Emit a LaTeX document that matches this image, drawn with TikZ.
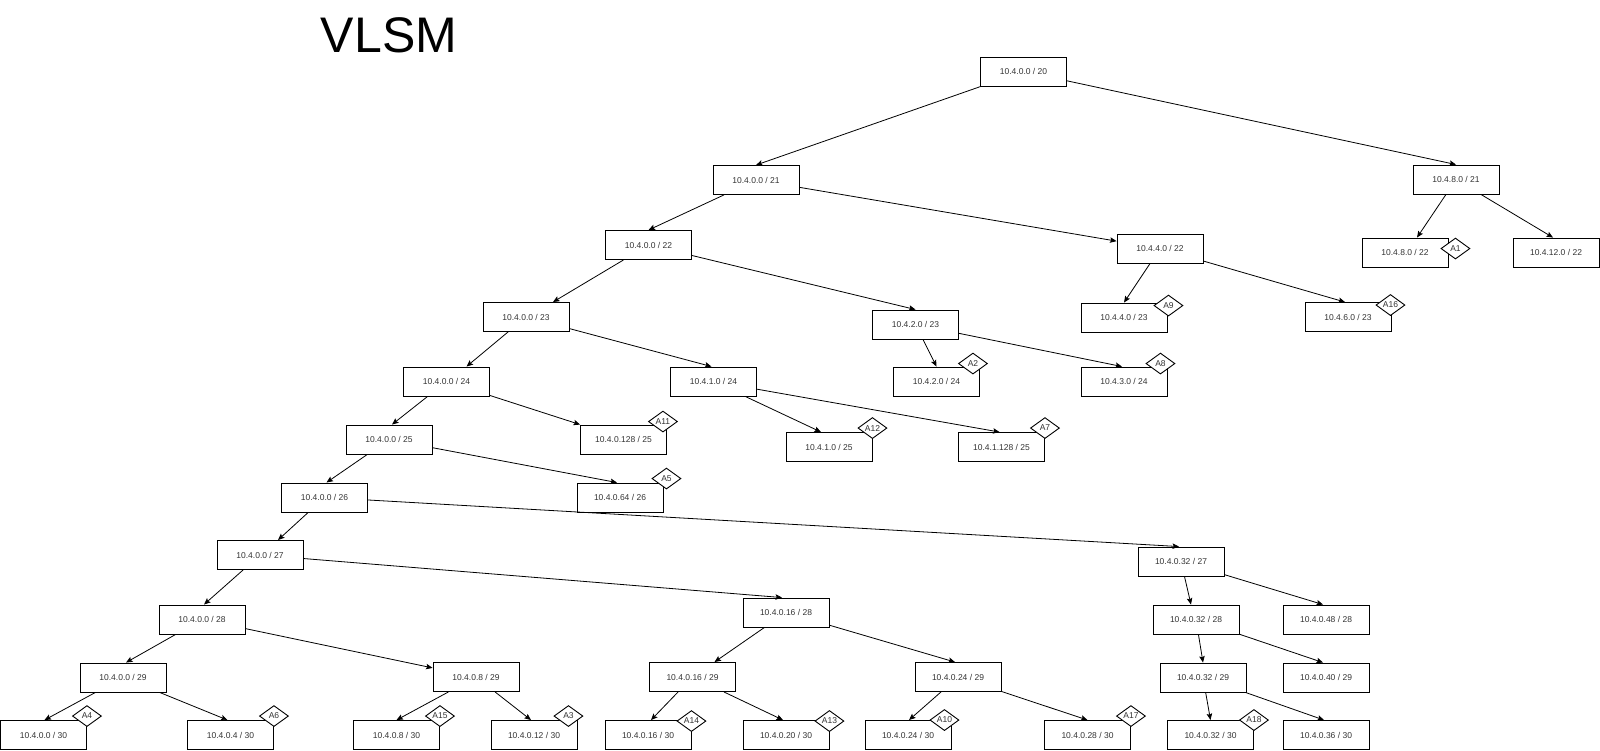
\documentclass[tikz,border=0pt]{standalone}
\usepackage{fontspec}
\setmainfont{Liberation Sans}
\usetikzlibrary{arrows.meta,shapes.geometric}

\begin{document}
\begin{tikzpicture}[x=1pt, y=-1pt, >={Stealth[length=6.5pt, width=5.5pt, inset=1.2pt]},
      net/.style={draw, line width=0.9pt, minimum width=86pt, minimum height=29pt, inner sep=0pt,
        text=black!80, font=\fontsize{8.5}{10}\selectfont},
      tag/.style={diamond, draw, line width=0.9pt, fill=white, minimum width=29pt, minimum height=21pt,
        inner sep=0pt, text=black!80, font=\fontsize{8.5}{10}\selectfont},
      every path/.style={line width=0.8pt}]
    \useasboundingbox (0,0) rectangle (1600,751);
    \node[font=\fontsize{50}{60}\selectfont] (title) at (389,35) {VLSM};
    % tree of subnets
    \node[net] (x0_0_20) at (1023.5,71.5) {10.4.0.0 / 20};
    \node[net] (x0_0_21) at (756,180) {10.4.0.0 / 21};
    \node[net] (x8_0_21) at (1456,179.5) {10.4.8.0 / 21};
    \node[net] (x0_0_22) at (648.5,245) {10.4.0.0 / 22};
    \node[net] (x4_0_22) at (1160,248.5) {10.4.4.0 / 22};
    \node[net] (x8_0_22) at (1405,252.5) {10.4.8.0 / 22};
    \node[net] (x12_0_22) at (1556,252.5) {10.4.12.0 / 22};
    \node[net] (x0_0_23) at (526,317) {10.4.0.0 / 23};
    \node[net] (x2_0_23) at (915.5,324.5) {10.4.2.0 / 23};
    \node[net] (x4_0_23) at (1124,317.5) {10.4.4.0 / 23};
    \node[net] (x6_0_23) at (1348,317) {10.4.6.0 / 23};
    \node[net] (x0_0_24) at (446.5,381.5) {10.4.0.0 / 24};
    \node[net] (x1_0_24) at (713.5,381.5) {10.4.1.0 / 24};
    \node[net] (x2_0_24) at (936.5,381.5) {10.4.2.0 / 24};
    \node[net] (x3_0_24) at (1124,381.5) {10.4.3.0 / 24};
    \node[net] (x0_0_25) at (389,439.5) {10.4.0.0 / 25};
    \node[net] (x0_128_25) at (623.5,439.5) {10.4.0.128 / 25};
    \node[net] (x1_0_25) at (829,447) {10.4.1.0 / 25};
    \node[net] (x1_128_25) at (1001.5,447) {10.4.1.128 / 25};
    \node[net] (x0_0_26) at (324.5,497.5) {10.4.0.0 / 26};
    \node[net] (x0_64_26) at (620,497.5) {10.4.0.64 / 26};
    \node[net] (x0_0_27) at (260,555) {10.4.0.0 / 27};
    \node[net] (x0_32_27) at (1181,561.5) {10.4.0.32 / 27};
    \node[net] (x0_0_28) at (202,619.5) {10.4.0.0 / 28};
    \node[net] (x0_16_28) at (786,612.5) {10.4.0.16 / 28};
    \node[net] (x0_32_28) at (1196,619.5) {10.4.0.32 / 28};
    \node[net] (x0_48_28) at (1326,619.5) {10.4.0.48 / 28};
    \node[net] (x0_0_29) at (123,677.5) {10.4.0.0 / 29};
    \node[net] (x0_8_29) at (476,677) {10.4.0.8 / 29};
    \node[net] (x0_16_29) at (692.5,677) {10.4.0.16 / 29};
    \node[net] (x0_24_29) at (958,677) {10.4.0.24 / 29};
    \node[net] (x0_32_29) at (1203,677.5) {10.4.0.32 / 29};
    \node[net] (x0_40_29) at (1326,677.5) {10.4.0.40 / 29};
    \node[net] (x0_0_30) at (43.5,735) {10.4.0.0 / 30};
    \node[net] (x0_4_30) at (230.5,735) {10.4.0.4 / 30};
    \node[net] (x0_8_30) at (396.5,735) {10.4.0.8 / 30};
    \node[net] (x0_12_30) at (534,735) {10.4.0.12 / 30};
    \node[net] (x0_16_30) at (648,735) {10.4.0.16 / 30};
    \node[net] (x0_20_30) at (786,735) {10.4.0.20 / 30};
    \node[net] (x0_24_30) at (908,735) {10.4.0.24 / 30};
    \node[net] (x0_28_30) at (1087.5,735) {10.4.0.28 / 30};
    \node[net] (x0_32_30) at (1210.5,735) {10.4.0.32 / 30};
    \node[net] (x0_36_30) at (1326,735) {10.4.0.36 / 30};
    % assigned subnets
    \node[tag] (a1) at ([shift={(7,11)}]x8_0_22.north east) {A1};
    \node[tag] (a2) at ([shift={(-7,-3)}]x2_0_24.north east) {A2};
    \node[tag] (a3) at ([shift={(-9,-4)}]x0_12_30.north east) {A3};
    \node[tag] (a4) at ([shift={(0,-4)}]x0_0_30.north east) {A4};
    \node[tag] (a5) at ([shift={(3,-4)}]x0_64_26.north east) {A5};
    \node[tag] (a6) at ([shift={(0,-4)}]x0_4_30.north east) {A6};
    \node[tag] (a7) at ([shift={(0,-4)}]x1_128_25.north east) {A7};
    \node[tag] (a8) at ([shift={(-7,-3)}]x3_0_24.north east) {A8};
    \node[tag] (a9) at ([shift={(1,3)}]x4_0_23.north east) {A9};
    \node[tag] (a10) at ([shift={(-7,0)}]x0_24_30.north east) {A10};
    \node[tag] (a11) at ([shift={(-4,-3)}]x0_128_25.north east) {A11};
    \node[tag] (a12) at ([shift={(0,-4)}]x1_0_25.north east) {A12};
    \node[tag] (a13) at ([shift={(0,1)}]x0_20_30.north east) {A13};
    \node[tag] (a14) at ([shift={(0,1)}]x0_16_30.north east) {A14};
    \node[tag] (a15) at ([shift={(0,-4)}]x0_8_30.north east) {A15};
    \node[tag] (a16) at ([shift={(-1,3)}]x6_0_23.north east) {A16};
    \node[tag] (a17) at ([shift={(0,-4)}]x0_28_30.north east) {A17};
    \node[tag] (a18) at ([shift={(0,0)}]x0_32_30.north east) {A18};
    % splits
    \draw[->] (x0_0_20) -- (x0_0_21.north);
    \draw[->] (x0_0_20) -- (x8_0_21.north);
    \draw[->] (x8_0_21) -- ([xshift=12pt]x8_0_22.north);
    \draw[->] (x8_0_21) -- ([xshift=-3pt]x12_0_22.north);
    \draw[->] (x0_0_21) -- (x0_0_22.north);
    \draw[->] (x0_0_21) -- (x4_0_22);
    \draw[->] (x4_0_22) -- (x4_0_23.north);
    \draw[->] (x4_0_22) -- ([xshift=-3pt]x6_0_23.north);
    \draw[->] (x0_0_22) -- ([xshift=27pt]x0_0_23.north);
    \draw[->] (x0_0_22) -- (x2_0_23.north);
    \draw[->] (x2_0_23) -- (x2_0_24.north);
    \draw[->] (x2_0_23) -- ([xshift=-2pt]x3_0_24.north);
    \draw[->] (x0_0_23) -- ([xshift=20pt]x0_0_24.north);
    \draw[->] (x0_0_23) -- ([xshift=-2pt]x1_0_24.north);
    \draw[->] (x1_0_24) -- ([xshift=-8pt]x1_0_25.north);
    \draw[->] (x1_0_24) -- ([xshift=-2pt]x1_128_25.north);
    \draw[->] (x0_0_24) -- ([xshift=3pt]x0_0_25.north);
    \draw[->] (x0_0_24) -- (x0_128_25.north west);
    \draw[->] (x0_0_25) -- ([xshift=2pt]x0_0_26.north);
    \draw[->] (x0_0_25) -- ([xshift=-3pt]x0_64_26.north);
    \draw[->] (x0_0_26) -- ([xshift=18pt]x0_0_27.north);
    \draw[->] (x0_0_26) -- ([xshift=-2pt]x0_32_27.north);
    \draw[->] (x0_0_27) -- ([xshift=2pt]x0_0_28.north);
    \draw[->] (x0_0_27) -- ([xshift=-4pt]x0_16_28.north);
    \draw[->] (x0_32_27) -- ([xshift=-5pt]x0_32_28.north);
    \draw[->] (x0_32_27) -- ([xshift=-3pt]x0_48_28.north);
    \draw[->] (x0_0_28) -- ([xshift=3pt]x0_0_29.north);
    \draw[->] (x0_0_28) -- (x0_8_29);
    \draw[->] (x0_16_28) -- ([xshift=22pt]x0_16_29.north);
    \draw[->] (x0_16_28) -- ([xshift=-3pt]x0_24_29.north);
    \draw[->] (x0_32_28) -- (x0_32_29.north);
    \draw[->] (x0_32_28) -- ([xshift=-3pt]x0_40_29.north);
    \draw[->] (x0_0_29) -- ([xshift=1pt]x0_0_30.north);
    \draw[->] (x0_0_29) -- ([xshift=-3pt]x0_4_30.north);
    \draw[->] (x0_8_29) -- (x0_8_30.north);
    \draw[->] (x0_8_29) -- ([xshift=-3pt]x0_12_30.north);
    \draw[->] (x0_16_29) -- ([xshift=3pt]x0_16_30.north);
    \draw[->] (x0_16_29) -- ([xshift=-3pt]x0_20_30.north);
    \draw[->] (x0_24_29) -- ([xshift=1pt]x0_24_30.north);
    \draw[->] (x0_24_29) -- (x0_28_30.north);
    \draw[->] (x0_32_29) -- (x0_32_30.north);
    \draw[->] (x0_32_29) -- ([xshift=-2pt]x0_36_30.north);
  \end{tikzpicture}
\end{document}
